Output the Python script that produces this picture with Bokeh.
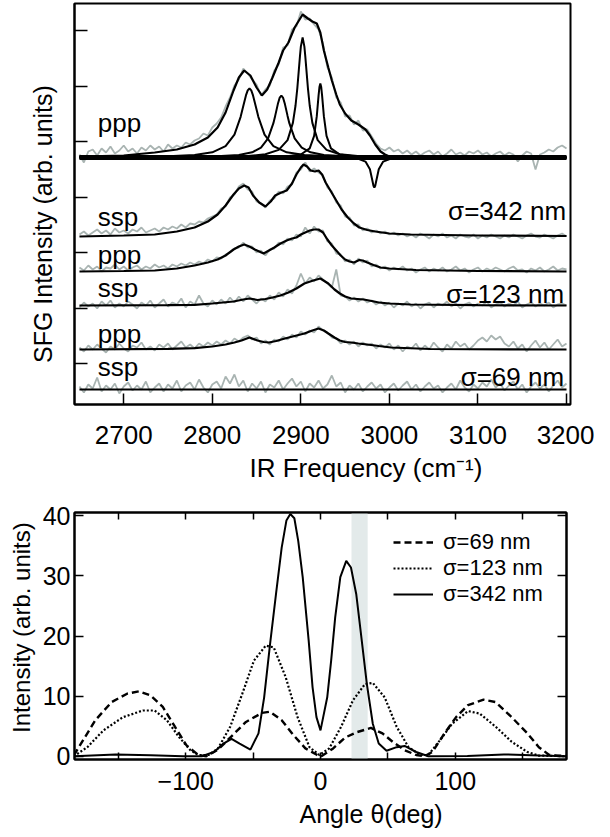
import numpy as np
from bokeh.plotting import figure
from bokeh.layouts import column
from bokeh.models import (Range1d, FixedTicker, Label, BoxAnnotation, Legend,
                          LegendItem, LinearAxis, Title)
from bokeh.embed import file_html
from bokeh.resources import INLINE

FONT = "Liberation Sans"

# ---------------- top panel data (SFG spectra, arb. units) ----------------
freq = np.arange(2650, 3201, 5)

gray_ppp342 = [3, -5, 6, 8, 2, 9, 5, 11, 4, 7,
               12, 6, 9, 4, 10, 7, 12, 8, 11, 6,
               13, 9, 12, 10, 15, 13, 17, 19, 24, 22,
               30, 34, 40, 51, 60, 72, 78, 89, 84, 78,
               73, 62, 68, 72, 87, 93, 110, 112, 128, 131,
               146, 138, 139, 133, 128, 114, 90, 80, 60, 55,
               41, 42, 33, 37, 27, 28, 21, 14, 9, 7,
               10, 6, 8, 4, 7, 3, 6, 2, 5, 7,
               3, 6, 1, 4, 8, 3, 5, 2, 6, 4,
               7, 3, 5, 1, 4, 6, 2, 5, 3, -4,
               2, 6, 4, -12, 3, 5, 8, 6, 10, 12,
               9]
gray_ssp342 = [2, 5, 1, 4, 7, 3, 6, 2, 8, 4,
               6, 3, 7, 5, 9, 4, 6, 8, 5, 9,
               7, 10, 8, 12, 9, 13, 12, 15, 14, 18,
               20, 22, 28, 30, 39, 42, 50, 53, 47, 45,
               35, 33, 29, 36, 38, 45, 43, 50, 52, 64,
               67, 74, 65, 68, 64, 61, 49, 45, 34, 31,
               20, 19, 11, 12, 6, 8, 4, 6, 3, 5,
               2, 4, 1, 3, 0, 2, -1, 3, 1, -2,
               2, 0, 3, -1, 1, -2, 2, 0, -1, 2,
               -2, 1, -1, 2, 0, -2, 1, -1, 2, 0,
               -2, 1, 3, 0, -1, 2, 0, -2, 1, 3,
               0]
gray_ppp123 = [4, 1, 6, 2, 5, 0, 4, 3, 7, 2,
               5, 1, 4, 6, 2, 5, 3, 7, 4, 6,
               3, 7, 5, 8, 6, 9, 7, 10, 8, 12,
               10, 14, 13, 17, 19, 23, 24, 29, 24, 25,
               19, 21, 16, 22, 23, 29, 27, 33, 31, 37,
               35, 44, 38, 45, 40, 41, 30, 28, 18, 17,
               10, 12, 7, 13, 9, 11, 5, 7, 3, 5,
               1, 4, 2, 5, 1, 3, -1, 2, 4, 0,
               3, 1, 4, 0, 2, 5, 1, 3, -1, 2,
               4, 0, 3, 1, 4, 2, 0, 3, 5, 1,
               2, -1, 3, 1, 4, 0, 2, 5, 1, 3,
               2]
gray_ssp123 = [-2, 3, -1, 2, -3, 4, 0, 5, -2, 2,
               -1, 4, 1, -3, 3, 0, 5, -2, 2, 6,
               -1, 3, 1, 7, -2, 4, 1, 10, 2, -1,
               5, 1, 6, 2, 8, 3, 9, 4, 10, 6,
               2, 7, 4, 10, 6, 13, 9, 16, 12, 20,
               32, 22, 28, 24, 30, 26, 22, 18, 36, 10,
               9, 5, 8, 4, 7, 3, 5, 1, 4, 0,
               3, -2, 2, 0, 4, -1, 2, -3, 1, 3,
               -2, 2, 0, 4, -1, 2, -3, 1, 3, -1,
               2, 0, 4, -2, 1, 3, -1, 2, 0, 4,
               -2, 1, 3, -1, 2, 0, 3, -2, 1, 2,
               0]
gray_ppp69 = [2, -2, 4, 0, 5, 1, -3, 3, 0, 6,
              1, -2, 4, 2, 7, 0, 3, -1, 5, 2,
              6, 0, 4, 8, 2, 5, 1, 6, 3, 7,
              4, 8, 5, 9, 6, 11, 8, 12, 14, 10,
              12, 6, 9, 5, 10, 8, 13, 10, 15, 12,
              18, 15, 19, 17, 23, 19, 17, 12, 11, 6,
              9, 5, 8, 3, 7, 4, 6, 1, 5, 2,
              6, 0, 4, -2, 3, 1, 6, -1, 4, 0,
              7, 2, -2, 5, 1, 8, 3, 6, 0, 4,
              9, 12, 8, 14, 10, 13, 6, 3, 8, 1,
              5, -2, 4, 9, 2, 7, 0, 5, 10, 3,
              6]
gray_ssp69 = [3, -3, 5, 1, 12, -2, 4, 0, 6, -4,
              3, 7, -1, 4, 0, 8, -3, 2, 6, -2,
              5, 1, 9, -2, 4, 7, 0, 10, 2, -3,
              5, 8, 1, 13, 6, 15, 3, 9, -2, 6,
              1, 8, -3, 5, 2, 9, 0, 6, 11, 3,
              8, -2, 6, 2, 9, 1, 5, 14, 3, 7,
              -3, 4, 0, 6, -2, 3, 7, 1, 5, -3,
              2, 6, -1, 4, 8, 0, 5, -2, 3, 7,
              1, 4, -3, 2, 6, 0, 9, 2, -2, 5,
              1, 7, 3, 10, 2, 6, -1, 4, 8, 0,
              5, -3, 3, 7, 1, 5, -2, 4, 9, 2,
              6]

# fitted envelopes
fit_ppp342_x = [2650, 2700, 2735, 2760, 2780, 2795, 2806, 2815, 2824, 2830, 2836, 2843, 2850, 2856,
                2862, 2868, 2875, 2880, 2886, 2893, 2902, 2908, 2913, 2918, 2922, 2926, 2931, 2935,
                2940, 2944, 2950, 2957, 2965, 2973, 2978, 2984, 2990, 2995, 3000, 3050, 3200]
fit_ppp342_y = [1, 2, 5, 8, 13, 20, 30, 45, 67, 80, 87, 82, 70, 62,
                68, 80, 95, 107, 115, 130, 143, 139, 136, 134, 125, 107, 90, 77,
                63, 53, 44, 37, 33, 28, 22, 13, 6, 3, 1, 0.5, 0]
fit_ssp342_x = [2650, 2700, 2735, 2760, 2780, 2795, 2806, 2815, 2824, 2830, 2836, 2841, 2846, 2853,
                2860, 2866, 2871, 2878, 2884, 2890, 2895, 2900, 2903, 2907, 2911, 2916, 2920, 2924,
                2928, 2934, 2940, 2946, 2953, 2960, 2966, 2975, 2984, 3000, 3024, 3100, 3200]
fit_ssp342_y = [0, 1, 2, 5, 9, 15, 22, 31, 42, 48, 51, 49, 41, 34,
                30, 35, 41, 44, 46, 53, 62, 69, 72, 70, 66, 65, 66, 62,
                54, 45, 36, 27, 19, 13, 9, 6.5, 5, 3, 2, 1, 0.5]
fit_ppp123_x = [2650, 2700, 2735, 2760, 2780, 2795, 2806, 2815, 2824, 2830, 2836, 2842, 2848, 2853,
                2858, 2864, 2870, 2877, 2884, 2890, 2895, 2900, 2905, 2910, 2915, 2920, 2925, 2930,
                2935, 2940, 2945, 2950, 2955, 2960, 2966, 2970, 2975, 2982, 2990, 3000, 3030, 3100, 3200]
fit_ppp123_y = [0, 0.5, 1, 3, 6, 9, 12, 16, 22, 25, 27, 25, 22, 20,
                18, 21, 24, 28, 31, 33, 34, 37, 39, 41, 42, 42, 39, 32,
                26, 21, 16, 12, 10, 9, 11.5, 11, 9, 6.5, 4, 3, 1.5, 0.5, 0]
fit_ssp123_x = [2650, 2750, 2780, 2800, 2824, 2835, 2842, 2851, 2860, 2868, 2877, 2886, 2895, 2904,
                2914, 2922, 2931, 2938, 2944, 2950, 2957, 2964, 2971, 2980, 2988, 3000, 3024, 3100, 3200]
fit_ssp123_y = [0, 0.3, 0.7, 2, 4, 6, 7, 5.5, 6.5, 8, 10, 13, 17, 22,
                25, 27, 22, 16, 12, 9, 7, 6.5, 6, 4.5, 3, 2, 1, 0.3, 0]
fit_ppp69_x = [2650, 2750, 2780, 2800, 2815, 2825, 2833, 2842, 2851, 2858, 2864, 2872, 2882, 2893,
               2904, 2913, 2920, 2926, 2931, 2938, 2944, 2950, 2957, 2965, 2975, 2988, 3002, 3046, 3200]
fit_ppp69_y = [0, 0.7, 1.3, 3, 5, 7, 9, 12, 9, 7.5, 7, 8.5, 11, 13.5,
               16, 19, 21, 19, 16, 12, 9, 7.5, 7, 6, 5, 3.5, 2, 0.5, 0]
fit_ssp69_x = [2650, 3200]
fit_ssp69_y = [0, 0]

# resonance components of the ppp (sigma=342 nm) fit
comp1_x = [2650, 2700, 2750, 2780, 2800, 2815, 2825, 2832, 2835, 2838, 2840, 2842, 2844, 2846,
           2849, 2852, 2859, 2869, 2884, 2904, 2934, 2984, 3050, 3200]
comp1_y = [0.3, 0.5, 1.2, 2.5, 5.2, 11.4, 22.9, 40.7, 51.5, 62.1, 67.1, 69, 67.1, 62.1,
           51.5, 40.7, 22.9, 11.4, 5.2, 2.5, 1.2, 0.5, 0.2, 0.1]
comp2_x = [2650, 2750, 2800, 2830, 2845, 2855, 2863, 2869, 2871, 2874, 2876, 2878, 2880, 2882,
           2885, 2887, 2893, 2901, 2911, 2926, 2956, 3006, 3200]
comp2_y = [0.1, 0.4, 1.0, 2.6, 5.2, 9.9, 19.1, 34.3, 41.6, 53.4, 59.6, 62, 59.6, 53.4,
           41.6, 34.3, 19.1, 9.9, 5.2, 2.6, 1.0, 0.4, 0.1]
comp3_x = [2650, 2750, 2800, 2840, 2860, 2875, 2885, 2891, 2894, 2896, 2899, 2900, 2902, 2904,
           2905, 2908, 2910, 2913, 2919, 2929, 2944, 2964, 3004, 3054, 3200]
comp3_y = [0.1, 0.3, 0.6, 1.5, 3.2, 7.6, 17.4, 34.6, 52, 69.2, 101.4, 110.9, 120, 110.9,
           101.4, 69.2, 52, 34.6, 17.4, 7.6, 3.2, 1.5, 0.6, 0.3, 0.1]
comp4_x = [2650, 2800, 2880, 2900, 2910, 2915, 2918, 2920, 2921, 2922, 2923, 2924, 2926, 2929,
           2934, 2944, 2964, 3044, 3200]
comp4_y = [0.0, 0.1, 0.8, 3.0, 9.1, 21.6, 41.3, 61.8, 70.5, 74, 70.5, 61.8, 41.3, 21.6,
           9.1, 3.0, 0.8, 0.1, 0.0]
comp5_x = [2650, 2900, 2950, 2965, 2973, 2978, 2981, 2982, 2983, 2984, 2985, 2988, 2993, 3001,
           3016, 3066, 3200]
comp5_y = [0, -0.1, -0.4, -1.4, -4.1, -11.7, -24, -28.2, -30, -28.2, -24, -11.7, -4.1, -1.4,
           -0.4, -0.1, 0]

# vertical offsets of the stacked spectra
off_ppp342, off_ssp342 = 247, 168
off_ppp123, off_ssp123 = 133, 99
off_ppp69, off_ssp69 = 55, 15

top_xticks = [2700, 2800, 2900, 3000, 3100, 3200]
top_yticks = [41, 96.5, 152, 207.5, 263, 318.5, 374]

# ---------------- bottom panel data ----------------
ang69 = [-183, -176, -167, -155, -143.5, -134.7, -126, -117, -108, -99.4, -90.6, -84.7, -75.9, -67,
         -55.3, -43.5, -37.6, -28.8, -20, -11.2, -2.4, 0.6, 9.4, 18.2, 27, 37.4, 46, 53.5, 62.4, 71,
         77, 83, 92, 100.6, 109.4, 121, 130, 141.8, 153.5, 162, 169.7, 183]
int69 = [0.15, 2.7, 6, 9, 10.4, 10.8, 10.1, 8.2, 4.9, 1.8, 0.2, 0, 1.1, 3.1,
         5.7, 7.2, 7.4, 6, 3.5, 1.3, 0.2, 0, 1.3, 3.1, 4, 4.7, 3.8, 2.4, 1, 0.2,
         0, 0.7, 3.8, 6.5, 8.5, 9.4, 9, 6.5, 3.8, 1.5, 0.2, 0]
ang123 = [-183, -173, -161, -146.5, -131.8, -123, -114, -105, -96.5, -90.6, -83, -76, -67, -58,
          -49.4, -40.6, -34.7, -25.9, -17, -8.2, -0.9, 6.5, 15.3, 24.1, 33, 38.8, 47.6, 56.5, 65.3,
          74, 80, 88.8, 97.6, 109.4, 118, 130, 141.8, 153.5, 162, 183]
int123 = [0, 1.5, 4.3, 6.5, 7.6, 7.6, 6, 3.2, 1, 0.2, 0.2, 1.3, 4.9, 10.4,
          15.9, 18.4, 18.1, 13.2, 6.5, 1.5, 0.2, 1.3, 4.9, 9.3, 12, 12.2, 9.8, 4.9, 1.5,
          0.2, 0.2, 2.7, 5.4, 7.5, 7.1, 4.9, 2.4, 0.7, 0.1, 0]
ang342 = [-183, -152, -126, -102, -88, -79, -72, -66, -60, -52, -46, -41.8, -37.4, -33, -28.8,
          -25.3, -22.4, -19.4, -16.5, -13.2, -8.8, -5.9, -3, 0, 2, 5, 7.9, 10.9, 14.7, 19.1,
          22.6, 26.5, 30, 34.4, 38.8, 43.2, 49, 56.5, 62.4, 71, 80, 109, 136, 162, 183]
int342 = [0, 0.3, 0.15, 0, 0, 0.7, 2.1, 2.9, 2.1, 1.1, 3.8, 9.8, 18.7, 27, 34.7,
          39.2, 40.3, 39.6, 35.8, 29.8, 19.3, 11.5, 6.5, 4.3, 6.5, 9.8, 15.9, 23.1, 29.8, 32.5,
          31.4, 27, 20.4, 12, 5.4, 2.1, 0.9, 1.5, 1.7, 0.7, 0, 0.05, 0.3, 0.1, 0]
band_lo, band_hi = 23, 35
bot_xticks = [-100, 0, 100]
bot_xminor = [-150, -50, 50, 150]
bot_yticks = [0, 10, 20, 30, 40]

GRAY = "#a9b4b2"

# ================= top figure =================
p1 = figure(frame_width=496, frame_height=401, x_range=Range1d(2644.4, 3204.5),
            y_range=Range1d(0, 401), output_backend="svg", toolbar_location=None,
            min_border_left=69, min_border_right=29, min_border_top=3, min_border_bottom=89)
p1.grid.visible = False
p1.outline_line_color = "black"
p1.outline_line_width = 2

series = [
    (gray_ppp342, fit_ppp342_x, fit_ppp342_y, off_ppp342),
    (gray_ssp342, fit_ssp342_x, fit_ssp342_y, off_ssp342),
    (gray_ppp123, fit_ppp123_x, fit_ppp123_y, off_ppp123),
    (gray_ssp123, fit_ssp123_x, fit_ssp123_y, off_ssp123),
    (gray_ppp69, fit_ppp69_x, fit_ppp69_y, off_ppp69),
    (gray_ssp69, fit_ssp69_x, fit_ssp69_y, off_ssp69),
]
for g, fx, fy, off in series:
    p1.line(freq, np.array(g) + off, line_color=GRAY, line_width=1.8)
p1.line([freq[0], freq[-1]], [off_ppp342, off_ppp342], line_color="black", line_width=5)
for cx, cy in [(comp1_x, comp1_y), (comp2_x, comp2_y), (comp3_x, comp3_y),
               (comp4_x, comp4_y), (comp5_x, comp5_y)]:
    p1.line(cx, np.array(cy) + off_ppp342, line_color="black", line_width=2)
for g, fx, fy, off in series:
    p1.line(fx, np.array(fy) + off, line_color="black", line_width=2.2)

ax = p1.xaxis[0]
ax.ticker = FixedTicker(ticks=top_xticks)
ax.major_tick_in = 11
ax.major_tick_out = 0
ax.minor_tick_line_color = None
ax.axis_line_width = 2
ax.major_tick_line_width = 1.5
ax.major_label_text_font = FONT
ax.major_label_text_font_size = "26px"
ax.major_label_text_color = "black"
ax.major_label_standoff = 21

ay = p1.yaxis[0]
ay.ticker = FixedTicker(ticks=top_yticks)
ay.major_label_overrides = {t: "" for t in top_yticks}
ay.major_label_standoff = 0
ay.major_tick_in = 13
ay.major_tick_out = 0
ay.minor_tick_line_color = None
ay.axis_line_width = 2
ay.major_tick_line_width = 1.5


def lab(p, x, y, text, size="26px", align="left"):
    p.add_layout(Label(x=x, y=y, text=text, text_font=FONT, text_font_size=size,
                       text_color="black", text_align=align, text_baseline="alphabetic"))


def axis_title(p, side, text, size, offset, standoff):
    p.add_layout(Title(text=text, align="left", offset=offset, standoff=standoff,
                       text_font=FONT, text_font_size=size, text_font_style="normal",
                       text_color="black"), side)


lab(p1, 2670.7, 281.5, "ppp")
lab(p1, 2670.7, 187.5, "ssp")
lab(p1, 2670.7, 149.5, "ppp")
lab(p1, 2670.7, 116.5, "ssp")
lab(p1, 2670.7, 71, "ppp")
lab(p1, 2670.7, 38, "ssp")
lab(p1, 3199.5, 194, "σ=342 nm", align="right")
lab(p1, 3197.3, 111, "σ=123 nm", align="right")
lab(p1, 3197.3, 28, "σ=69 nm", align="right")
axis_title(p1, "below", "IR Frequency (cm⁻¹)", "26px", 175, 8)
axis_title(p1, "left", "SFG Intensity (arb. units)", "25px", 41.5, 36)

# ================= bottom figure =================
p2 = figure(frame_width=492, frame_height=247, x_range=Range1d(-182.5, 182.5),
            y_range=Range1d(-0.55, 40.55), output_backend="svg", toolbar_location=None,
            min_border_left=70, min_border_right=20, min_border_top=19, min_border_bottom=78)
p2.grid.visible = False
p2.outline_line_color = "black"
p2.outline_line_width = 2

p2.add_layout(BoxAnnotation(left=band_lo, right=band_hi, fill_color="#e3eaea", fill_alpha=1,
                            line_alpha=0, level="underlay"))
r69 = p2.line(ang69, int69, line_color="black", line_width=2.4, line_dash="7 4")
r123 = p2.line(ang123, int123, line_color="black", line_width=2.2, line_dash="2 2")
r342 = p2.line(ang342, int342, line_color="black", line_width=2)


def style_axis(a, tick):
    a.major_tick_in = tick
    a.major_tick_out = 0
    a.minor_tick_in = tick
    a.minor_tick_out = 0
    a.axis_line_width = 2
    a.major_tick_line_width = 1.5
    a.minor_tick_line_width = 1.5
    a.major_label_text_font = FONT
    a.major_label_text_font_size = "25px"
    a.major_label_text_color = "black"


bx = p2.xaxis[0]
bx.ticker = FixedTicker(ticks=bot_xticks, minor_ticks=bot_xminor)
style_axis(bx, 7)
bx.major_label_standoff = 12
by = p2.yaxis[0]
by.ticker = FixedTicker(ticks=bot_yticks)
style_axis(by, 9)
by.minor_tick_line_color = None
by.major_label_standoff = 4

top_ax = LinearAxis(ticker=FixedTicker(ticks=bot_xticks, minor_ticks=bot_xminor),
                    major_label_overrides={t: "" for t in bot_xticks})
style_axis(top_ax, 7)
top_ax.major_label_standoff = 0
p2.add_layout(top_ax, "above")
right_ax = LinearAxis(ticker=FixedTicker(ticks=bot_yticks),
                      major_label_overrides={t: "" for t in bot_yticks})
style_axis(right_ax, 9)
right_ax.minor_tick_line_color = None
right_ax.major_label_standoff = 0
p2.add_layout(right_ax, "right")

legend = Legend(items=[LegendItem(label="σ=69 nm", renderers=[r69]),
                       LegendItem(label="σ=123 nm", renderers=[r123]),
                       LegendItem(label="σ=342 nm", renderers=[r342])],
                location=(319, 152), background_fill_alpha=0, border_line_alpha=0,
                label_text_font=FONT, label_text_font_size="22px", label_text_color="black",
                glyph_width=40, glyph_height=24, label_height=24, spacing=0, padding=0,
                margin=0, label_standoff=10)
p2.add_layout(legend)

axis_title(p2, "below", "Angle θ(deg)", "25px", 225, 10)
axis_title(p2, "left", "Intensity (arb. units)", "24px", 26.5, 10)

layout = column(p1, p2)
open("out.html", "w").write(file_html(layout, INLINE))
